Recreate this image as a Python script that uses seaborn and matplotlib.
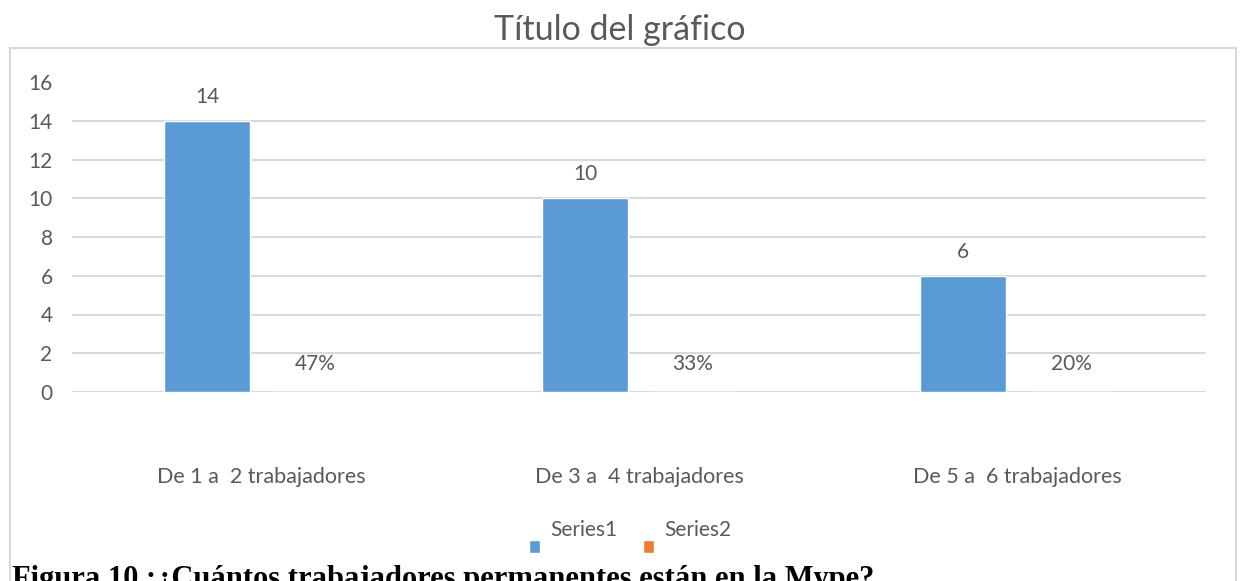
import numpy as np
import pandas as pd
import matplotlib
matplotlib.use("Agg")
import matplotlib.pyplot as plt
import seaborn as sns
from matplotlib.patches import Patch, Rectangle

# datos del gráfico
categorias = ["De 1 a  2 trabajadores", "De 3 a  4 trabajadores", "De 5 a  6 trabajadores"]
series1 = [14, 10, 6]
series2 = [0, 0, 0]
etiquetas_s2 = ["47%", "33%", "20%"]
nombres_series = ["Series1", "Series2"]
yticks = [0, 2, 4, 6, 8, 10, 12, 14, 16]

azul = "#5B9BD5"
naranja = "#ED7D31"
gris = "#595959"
gris_linea = "#D9D9D9"

sns.set_style("white")
plt.rcParams["font.family"] = ["Lato", "DejaVu Sans"]

df = pd.DataFrame({
    "categoria": categorias * 2,
    "serie": [nombres_series[0]] * 3 + [nombres_series[1]] * 3,
    "valor": series1 + series2,
})

fig = plt.figure(figsize=(12.4, 5.81), dpi=100)
ax = fig.add_axes([72 / 1240, 189 / 581, 1134 / 1240, 310 / 581])

# líneas de cuadrícula (sin la de 16)
for y in yticks[:-1]:
    ax.axhline(y, color=gris_linea, lw=1.5, zorder=0)

sns.barplot(data=df, x="categoria", y="valor", hue="serie",
            palette=[azul, naranja], saturation=1, width=0.572, gap=0.2,
            legend=False, ax=ax, zorder=2)

ax.set_xlim(-0.5, 2.5)
ax.set_ylim(0, 16)
ax.set_yticks(yticks)
ax.set_xlabel("")
ax.set_ylabel("")
for s in ax.spines.values():
    s.set_visible(False)
ax.tick_params(axis="y", length=0, pad=14, labelsize=15, labelcolor=gris)
ax.tick_params(axis="x", length=0, pad=54, labelsize=15.5, labelcolor=gris)

ax.bar_label(ax.containers[0], labels=[str(v) for v in series1],
             padding=10, fontsize=15, color=gris)
ax.bar_label(ax.containers[1], labels=etiquetas_s2,
             padding=13, fontsize=15, color=gris)

# leyenda
handles = [Patch(facecolor=azul), Patch(facecolor=naranja)]
leg = ax.legend(handles, nombres_series, loc="center",
                bbox_to_anchor=(630 / 1240, 51 / 581), bbox_transform=fig.transFigure,
                ncol=2, frameon=False, fontsize=15, handlelength=0.55,
                handleheight=0.55, handletextpad=0.5, columnspacing=1.2,
                labelcolor=gris)
for p in leg.get_patches():
    p.set_y(p.get_y() - 13)

# título
fig.text(0.5, (581 - 30) / 581, "Título del gráfico", ha="center", va="center",
         fontsize=24.5, color=gris)

# borde del área del gráfico
fig.patches.append(Rectangle((10 / 1240, -0.05), 1226 / 1240, (533 / 581) + 0.05,
                             transform=fig.transFigure, fill=False,
                             edgecolor=gris_linea, lw=1.5, zorder=0))

# pie de figura (cortado en el original)
fig.text(12 / 1240, (581 - 587) / 581,
         "Figura 10 :¿Cuántos trabajadores permanentes están en la Mype?",
         ha="left", va="baseline", fontsize=22, fontweight="bold",
         family=["Liberation Serif", "DejaVu Serif"], color="black",
         bbox=dict(facecolor="white", edgecolor="none", pad=0))

fig.savefig("out.png", dpi=100)
